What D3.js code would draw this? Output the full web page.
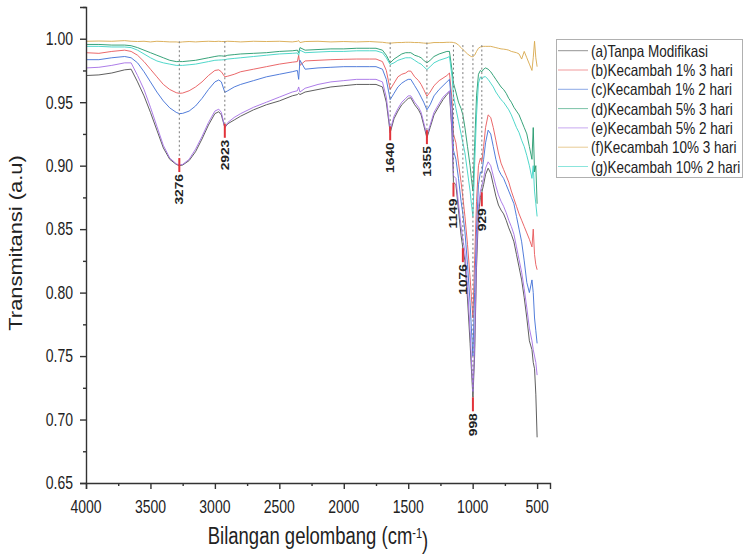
<!DOCTYPE html>
<html><head><meta charset="utf-8">
<script src="https://cdn.jsdelivr.net/npm/d3@7"></script>
<style>body{margin:0;background:#fff}svg{display:block}</style>
</head><body><svg id="c" width="744" height="555"></svg>
<script>
const wavenumbers = [4000,3900,3800,3700,3650,3600,3550,3500,3450,3400,
3350,3300,3276,3250,3200,3150,3100,3050,3000,2970,
2950,2923,2900,2850,2800,2700,2600,2500,2400,2360,
2350,2340,2300,2200,2100,2000,1900,1800,1750,1700,
1670,1640,1610,1580,1550,1520,1500,1480,1450,1420,
1400,1380,1355,1330,1300,1260,1230,1200,1180,1160,
1149,1130,1110,1090,1076,1060,1040,1020,1010,998,
985,970,955,940,929,915,900,880,860,840,
820,800,780,760,740,720,700,680,660,640,
620,600,580,560,540,530,520,510,500];

const seriesNames = ["(a)Tanpa Modifikasi","(b)Kecambah 1% 3 hari","(c)Kecambah 1% 2 hari","(d)Kecambah 5% 3 hari","(e)Kecambah 5% 2 hari","(f)Kecambah 10% 3 hari","(g)Kecambah 10% 2 hari"];
const seriesColors = ["#4d4d4d","#e8585a","#3f6fd6","#22996b","#a46fe6","#d8a84c","#3dd3c4"];

const valuesA = [.971,.9715,.973,.9755,.976,.966,.955,.942,.928,.914,
.905,.901,.900,.9005,.904,.911,.921,.932,.941,.9425,
.940,.930,.933,.936,.939,.944,.948,.951,.955,.956,
.957,.956,.958,.960,.962,.963,.964,.964,.964,.962,
.950,.926,.937,.943,.948,.951,.953,.9535,.948,.944,
.940,.932,.922,.930,.940,.947,.952,.956,.958,.925,
.887,.885,.865,.845,.835,.825,.795,.760,.740,.7175,
.750,.820,.862,.875,.879,.885,.893,.898,.894,.885,
.876,.869,.865,.862,.857,.851,.846,.840,.830,.820,
.810,.796,.780,.762,.755,.745,.740,.720,.686];

const valuesB = [.989,.9885,.990,.991,.990,.987,.982,.976,.970,.964,
.960,.9575,.957,.9572,.959,.962,.966,.971,.975,.9755,
.974,.970,.9705,.972,.974,.976,.978,.980,.9815,.982,
.987,.979,.9825,.983,.9835,.9838,.984,.984,.984,.982,
.975,.960,.965,.970,.972,.973,.9745,.9745,.970,.967,
.964,.960,.9547,.958,.963,.967,.969,.971,.973,.952,
.925,.918,.902,.887,.875,.860,.838,.812,.797,.780,
.825,.872,.900,.906,.903,.915,.930,.940,.938,.930,
.920,.910,.902,.897,.892,.887,.880,.874,.868,.862,
.857,.852,.847,.842,.836,.850,.830,.822,.818];

const valuesC = [.9835,.9835,.985,.986,.985,.981,.974,.966,.958,.951,
.9455,.942,.941,.9412,.943,.947,.953,.960,.966,.9675,
.966,.9578,.959,.962,.964,.967,.970,.972,.974,.975,
.968,.983,.976,.977,.9775,.978,.978,.978,.978,.976,
.968,.952,.957,.962,.965,.967,.968,.968,.963,.958,
.954,.950,.944,.948,.955,.960,.963,.966,.968,.945,
.912,.905,.890,.872,.862,.848,.822,.792,.772,.750,
.800,.850,.885,.895,.894,.905,.918,.928,.925,.915,
.905,.897,.893,.890,.885,.880,.875,.870,.860,.850,
.840,.825,.808,.800,.810,.800,.780,.770,.760];

const valuesD = [.9955,.9955,.995,.995,.9945,.993,.991,.989,.987,.985,
.983,.982,.982,.982,.9825,.983,.984,.985,.986,.9865,
.9865,.9862,.987,.9875,.988,.9885,.989,.990,.9905,.991,
.989,.993,.991,.9915,.992,.992,.9925,.9925,.9925,.991,
.987,.981,.984,.986,.988,.989,.989,.989,.987,.986,
.985,.983,.981,.983,.986,.988,.989,.990,.990,.975,
.965,.958,.950,.945,.940,.930,.915,.900,.890,.880,
.915,.955,.972,.975,.974,.976,.977,.976,.974,.971,
.968,.965,.962,.960,.957,.953,.950,.946,.943,.940,
.935,.930,.925,.915,.905,.930,.895,.900,.870];

const valuesE = [.977,.9775,.979,.981,.981,.971,.960,.946,.931,.916,
.906,.9015,.9005,.901,.905,.913,.923,.934,.943,.9445,
.942,.930,.934,.938,.941,.946,.950,.954,.958,.959,
.962,.958,.961,.964,.966,.967,.968,.968,.968,.966,
.954,.928,.939,.945,.950,.953,.955,.955,.950,.946,
.942,.934,.924,.932,.942,.949,.954,.957,.959,.928,
.892,.890,.870,.852,.842,.832,.805,.770,.748,.722,
.758,.830,.868,.880,.884,.890,.898,.903,.900,.892,
.884,.877,.872,.868,.863,.857,.852,.846,.836,.826,
.816,.803,.788,.772,.762,.755,.750,.745,.735];

const valuesF = [.998,.9982,.998,.9985,.998,.9978,.998,.9975,.998,.9978,
.9975,.9975,.9972,.9975,.9978,.9975,.9978,.998,.9978,.998,
.9978,.9978,.998,.9978,.9975,.998,.9978,.998,.9975,.998,
.9985,.997,.9978,.998,.9975,.9978,.9975,.9978,.9975,.9972,
.9968,.9965,.9968,.997,.997,.9972,.9972,.9972,.997,.997,
.9968,.9966,.9964,.9966,.997,.997,.997,.9972,.9972,.9972,
.997,.9965,.995,.993,.9915,.990,.988,.9865,.986,.9858,
.987,.990,.9925,.9935,.9937,.994,.994,.994,.994,.9935,
.993,.9925,.992,.9918,.9915,.991,.990,.9895,.989,.988,
.984,.990,.985,.980,.975,.985,.998,.985,.978];

const valuesG = [.994,.994,.9935,.9935,.993,.991,.988,.985,.9825,.981,
.980,.979,.979,.979,.9795,.980,.981,.982,.983,.9832,
.9833,.9835,.984,.9845,.985,.986,.987,.988,.9885,.9888,
.987,.991,.989,.9895,.990,.990,.9905,.9905,.9905,.989,
.985,.9797,.981,.983,.984,.985,.985,.985,.983,.981,
.980,.978,.9757,.978,.981,.983,.984,.985,.986,.970,
.955,.945,.935,.925,.918,.910,.895,.880,.870,.860,
.900,.940,.965,.970,.968,.970,.970,.968,.965,.962,
.958,.955,.952,.950,.947,.944,.940,.935,.930,.926,
.920,.915,.908,.900,.890,.900,.880,.870,.860];

const peakWavenumbers = [3276,2923,1640,1355,1149,1076,998,929];
const peakMinima = [0.906,0.933,0.931,0.928,0.8866,0.835,0.7175,0.879];
const guideTops = [0.998,0.998,0.997,0.997,0.995,0.995,0.995,0.995];
const yTickValues = [0.65,0.70,0.75,0.80,0.85,0.90,0.95,1.00];
const yMinorValues = [0.675,0.725,0.775,0.825,0.875,0.925,0.975,1.025];
const xTickValues = [4000,3500,3000,2500,2000,1500,1000,500];
const xMinorValues = [3750,3250,2750,2250,1750,1250,750];

const allValues = [valuesA,valuesB,valuesC,valuesD,valuesE,valuesF,valuesG];
const S = 1.25; // vertical text stretch seen in reference

const svg = d3.select("#c");
const x = d3.scaleLinear().domain([4000,400]).range([86,550]);
const y = d3.scaleLinear().domain([0.65,1.025]).range([483,7]);
const FONT = "Liberation Sans, Arial, sans-serif";

// series
const line = d3.line().x(d=>x(d[0])).y(d=>y(d[1]));
const gLines = svg.append("g");
allValues.forEach((vals,i)=>{
  const pts = wavenumbers.map((w,j)=>[w,vals[j]]);
  gLines.append("path").attr("d",line(pts)).attr("fill","none")
    .attr("stroke",seriesColors[i]).attr("stroke-width",1).attr("stroke-opacity",0.9);
});

// peak guides, marks and labels
const gPk = svg.append("g");
peakWavenumbers.forEach((w,i)=>{
  const px = x(w), py = y(peakMinima[i]);
  gPk.append("line").attr("x1",px).attr("x2",px).attr("y1",y(guideTops[i])).attr("y2",py)
    .attr("stroke","#7a7a7a").attr("stroke-width",1).attr("stroke-dasharray","2,2.5");
  gPk.append("line").attr("x1",px).attr("x2",px).attr("y1",py).attr("y2",py+14)
    .attr("stroke","#e2333a").attr("stroke-width",2);
  gPk.append("text").attr("transform",`translate(${px},${py+16}) scale(1,${S}) rotate(-90)`)
    .attr("text-anchor","end").attr("dy","0.36em")
    .attr("font-family",FONT).attr("font-weight","bold").attr("font-size",11).attr("fill","#222")
    .text(w);
});

// axes
const axColor = "#333";
svg.append("g").attr("transform","translate(86,0)")
  .call(d3.axisLeft(y).tickValues(yTickValues).tickSize(6).tickFormat(""));
const yMinor = svg.append("g").attr("transform","translate(86,0)")
  .call(d3.axisLeft(y).tickValues(yMinorValues).tickSize(3).tickFormat(""));
yMinor.select(".domain").remove();
svg.append("g").attr("transform","translate(0,483)")
  .call(d3.axisBottom(x).tickValues(xTickValues).tickSize(6).tickFormat(""));
const xMinor = svg.append("g").attr("transform","translate(0,483)")
  .call(d3.axisBottom(x).tickValues(xMinorValues).tickSize(3).tickFormat(""));
xMinor.select(".domain").remove();
svg.selectAll(".domain").attr("stroke",axColor).attr("stroke-width",1.4);
svg.selectAll(".tick line").attr("stroke",axColor).attr("stroke-width",1.4);

// tick labels
yTickValues.forEach(v=>{
  svg.append("text").attr("transform",`translate(73,${y(v)}) scale(1,${S})`)
    .attr("text-anchor","end").attr("dy","0.36em").attr("font-family",FONT)
    .attr("font-size",14).attr("fill","#222").text(d3.format(".2f")(v));
});
xTickValues.forEach(v=>{
  svg.append("text").attr("transform",`translate(${x(v)},507) scale(1,${S})`)
    .attr("text-anchor","middle").attr("dy","0.36em").attr("font-family",FONT)
    .attr("font-size",14).attr("fill","#222").text(v);
});

// axis titles
svg.append("text").attr("transform",`translate(16,243) scale(1,${S}) rotate(-90)`)
  .attr("text-anchor","middle").attr("dy","0.36em").attr("font-family",FONT)
  .attr("font-size",17.5).attr("fill","#222").text("Transmitansi (a.u)");
const xt = svg.append("text").attr("transform",`translate(318,536) scale(1,${S})`)
  .attr("text-anchor","middle").attr("dy","0.36em").attr("font-family",FONT)
  .attr("font-size",18.5).attr("fill","#222");
xt.append("tspan").text("Bilangan gelombang (cm");
xt.append("tspan").attr("dy","-0.45em").attr("font-size",11).text("-1");
xt.append("tspan").attr("dy","0.45em").text(")");

// legend
const lg = svg.append("g");
lg.append("rect").attr("x",556.5).attr("y",39.5).attr("width",186).attr("height",138)
  .attr("fill","#fff").attr("stroke","#b0b0b0").attr("stroke-width",1);
seriesNames.forEach((n,i)=>{
  const cy = 50.7 + i*19.3;
  lg.append("line").attr("x1",558).attr("x2",588).attr("y1",cy).attr("y2",cy)
    .attr("stroke",seriesColors[i]).attr("stroke-width",1).attr("stroke-opacity",0.6);
  lg.append("text").attr("transform",`translate(591,${cy}) scale(1,${S})`)
    .attr("dy","0.36em").attr("font-family",FONT).attr("font-size",13.5).attr("fill","#222").text(n);
});
</script></body></html>
